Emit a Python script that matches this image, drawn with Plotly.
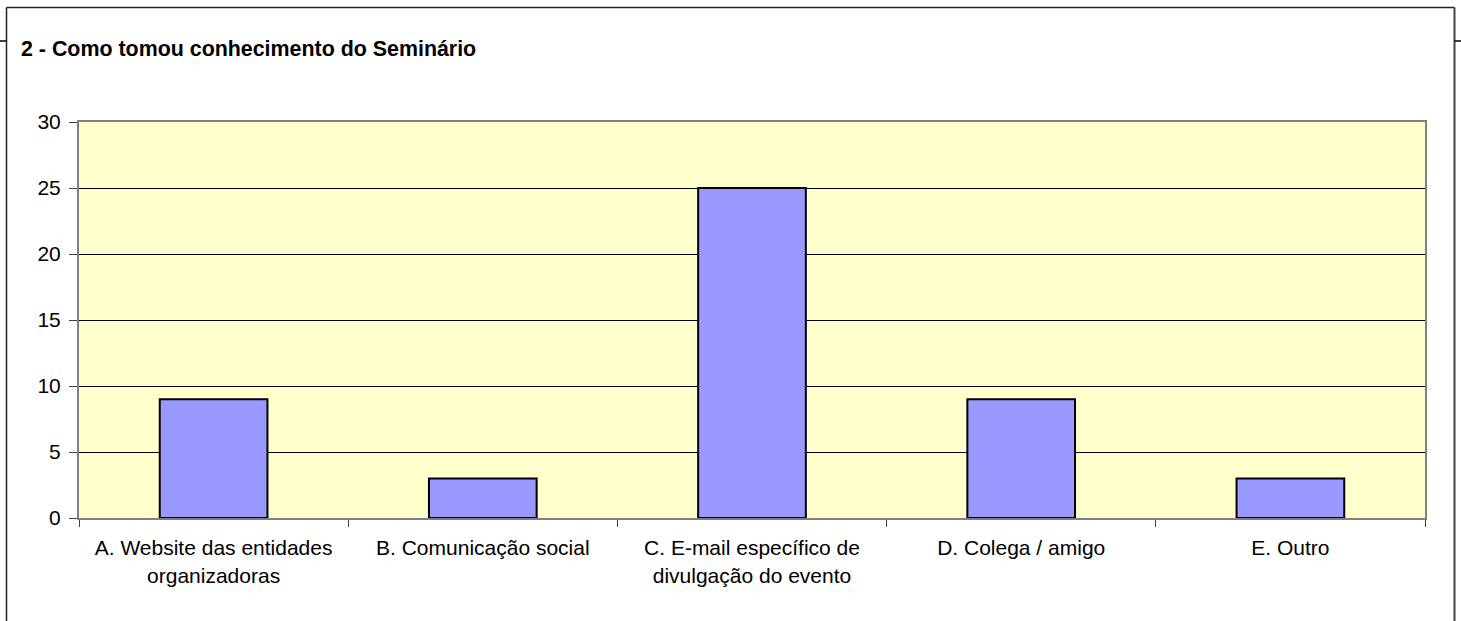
import plotly.graph_objects as go

categories = [
    "A. Website das entidades<br>organizadoras",
    "B. Comunicação social",
    "C. E-mail específico de<br>divulgação do evento",
    "D. Colega / amigo",
    "E. Outro",
]
values = [9, 3, 25, 9, 3]
y_ticks = [0, 5, 10, 15, 20, 25, 30]
title_text = "2 - Como tomou conhecimento do Seminário"

W, H = 1461, 621
L, R, T, B = 79, 1425, 122, 518  # plot area pixel edges


def px(x):
    return (x - L) / (R - L)


def py(y):
    return (B - y) / (B - T)


FONT = "Liberation Sans, Arial, sans-serif"

fig = go.Figure(
    go.Bar(
        x=categories,
        y=values,
        width=0.4,
        marker=dict(color="#9999FF", line=dict(color="#000000", width=2)),
        hoverinfo="skip",
    )
)

fig.update_layout(
    width=W,
    height=H,
    margin=dict(l=L, r=W - R, t=T, b=H - B, pad=0),
    paper_bgcolor="white",
    plot_bgcolor="#FFFFCC",
    showlegend=False,
    font=dict(family=FONT, size=21, color="#000000"),
    title=dict(
        text="<b>" + title_text + "</b>",
        xref="container",
        yref="container",
        x=21 / W,
        xanchor="left",
        y=1 - 49 / H,
        yanchor="middle",
        font=dict(family=FONT, size=21.4, color="#000000"),
    ),
    bargap=0.6,
)

fig.update_xaxes(
    type="category",
    showgrid=False,
    showline=True,
    linecolor="#808080",
    linewidth=2,
    mirror=True,
    ticks="outside",
    tickson="boundaries",
    ticklen=7,
    tickcolor="#404040",
    tickwidth=1,
    ticklabelstandoff=10,
    tickfont=dict(family=FONT, size=21, color="#000000"),
)

fig.update_yaxes(
    range=[0, 30],
    tickvals=y_ticks,
    ticktext=[str(v) for v in y_ticks],
    showgrid=True,
    gridcolor="#000000",
    gridwidth=1,
    zeroline=False,
    showline=True,
    linecolor="#808080",
    linewidth=2,
    mirror=True,
    ticks="outside",
    ticklen=8,
    tickcolor="#404040",
    tickwidth=1,
    ticklabelstandoff=4,
    tickfont=dict(family=FONT, size=21, color="#000000"),
)

# outer frame (document chart border) and small side marks
frame_color = "#222222"
shapes = [
    dict(type="line", xref="paper", yref="paper",
         x0=px(6.5), x1=px(6.5), y0=py(7.5), y1=py(640),
         line=dict(color=frame_color, width=1.5)),
    dict(type="line", xref="paper", yref="paper",
         x0=px(6.5), x1=px(1454.5), y0=py(7.5), y1=py(7.5),
         line=dict(color=frame_color, width=1.5)),
    dict(type="line", xref="paper", yref="paper",
         x0=px(1454.5), x1=px(1454.5), y0=py(7.5), y1=py(640),
         line=dict(color="#444444", width=2)),
    dict(type="line", xref="paper", yref="paper",
         x0=px(0), x1=px(6.5), y0=py(41), y1=py(41),
         line=dict(color="#000000", width=1.5)),
    dict(type="line", xref="paper", yref="paper",
         x0=px(1454.5), x1=px(1461), y0=py(41), y1=py(41),
         line=dict(color="#000000", width=1.5)),
]
fig.update_layout(shapes=shapes)

fig.write_html(
    "out.html",
    config={"displayModeBar": False, "staticPlot": True},
    post_script="document.body.style.margin='0';document.body.style.padding='0';",
)
